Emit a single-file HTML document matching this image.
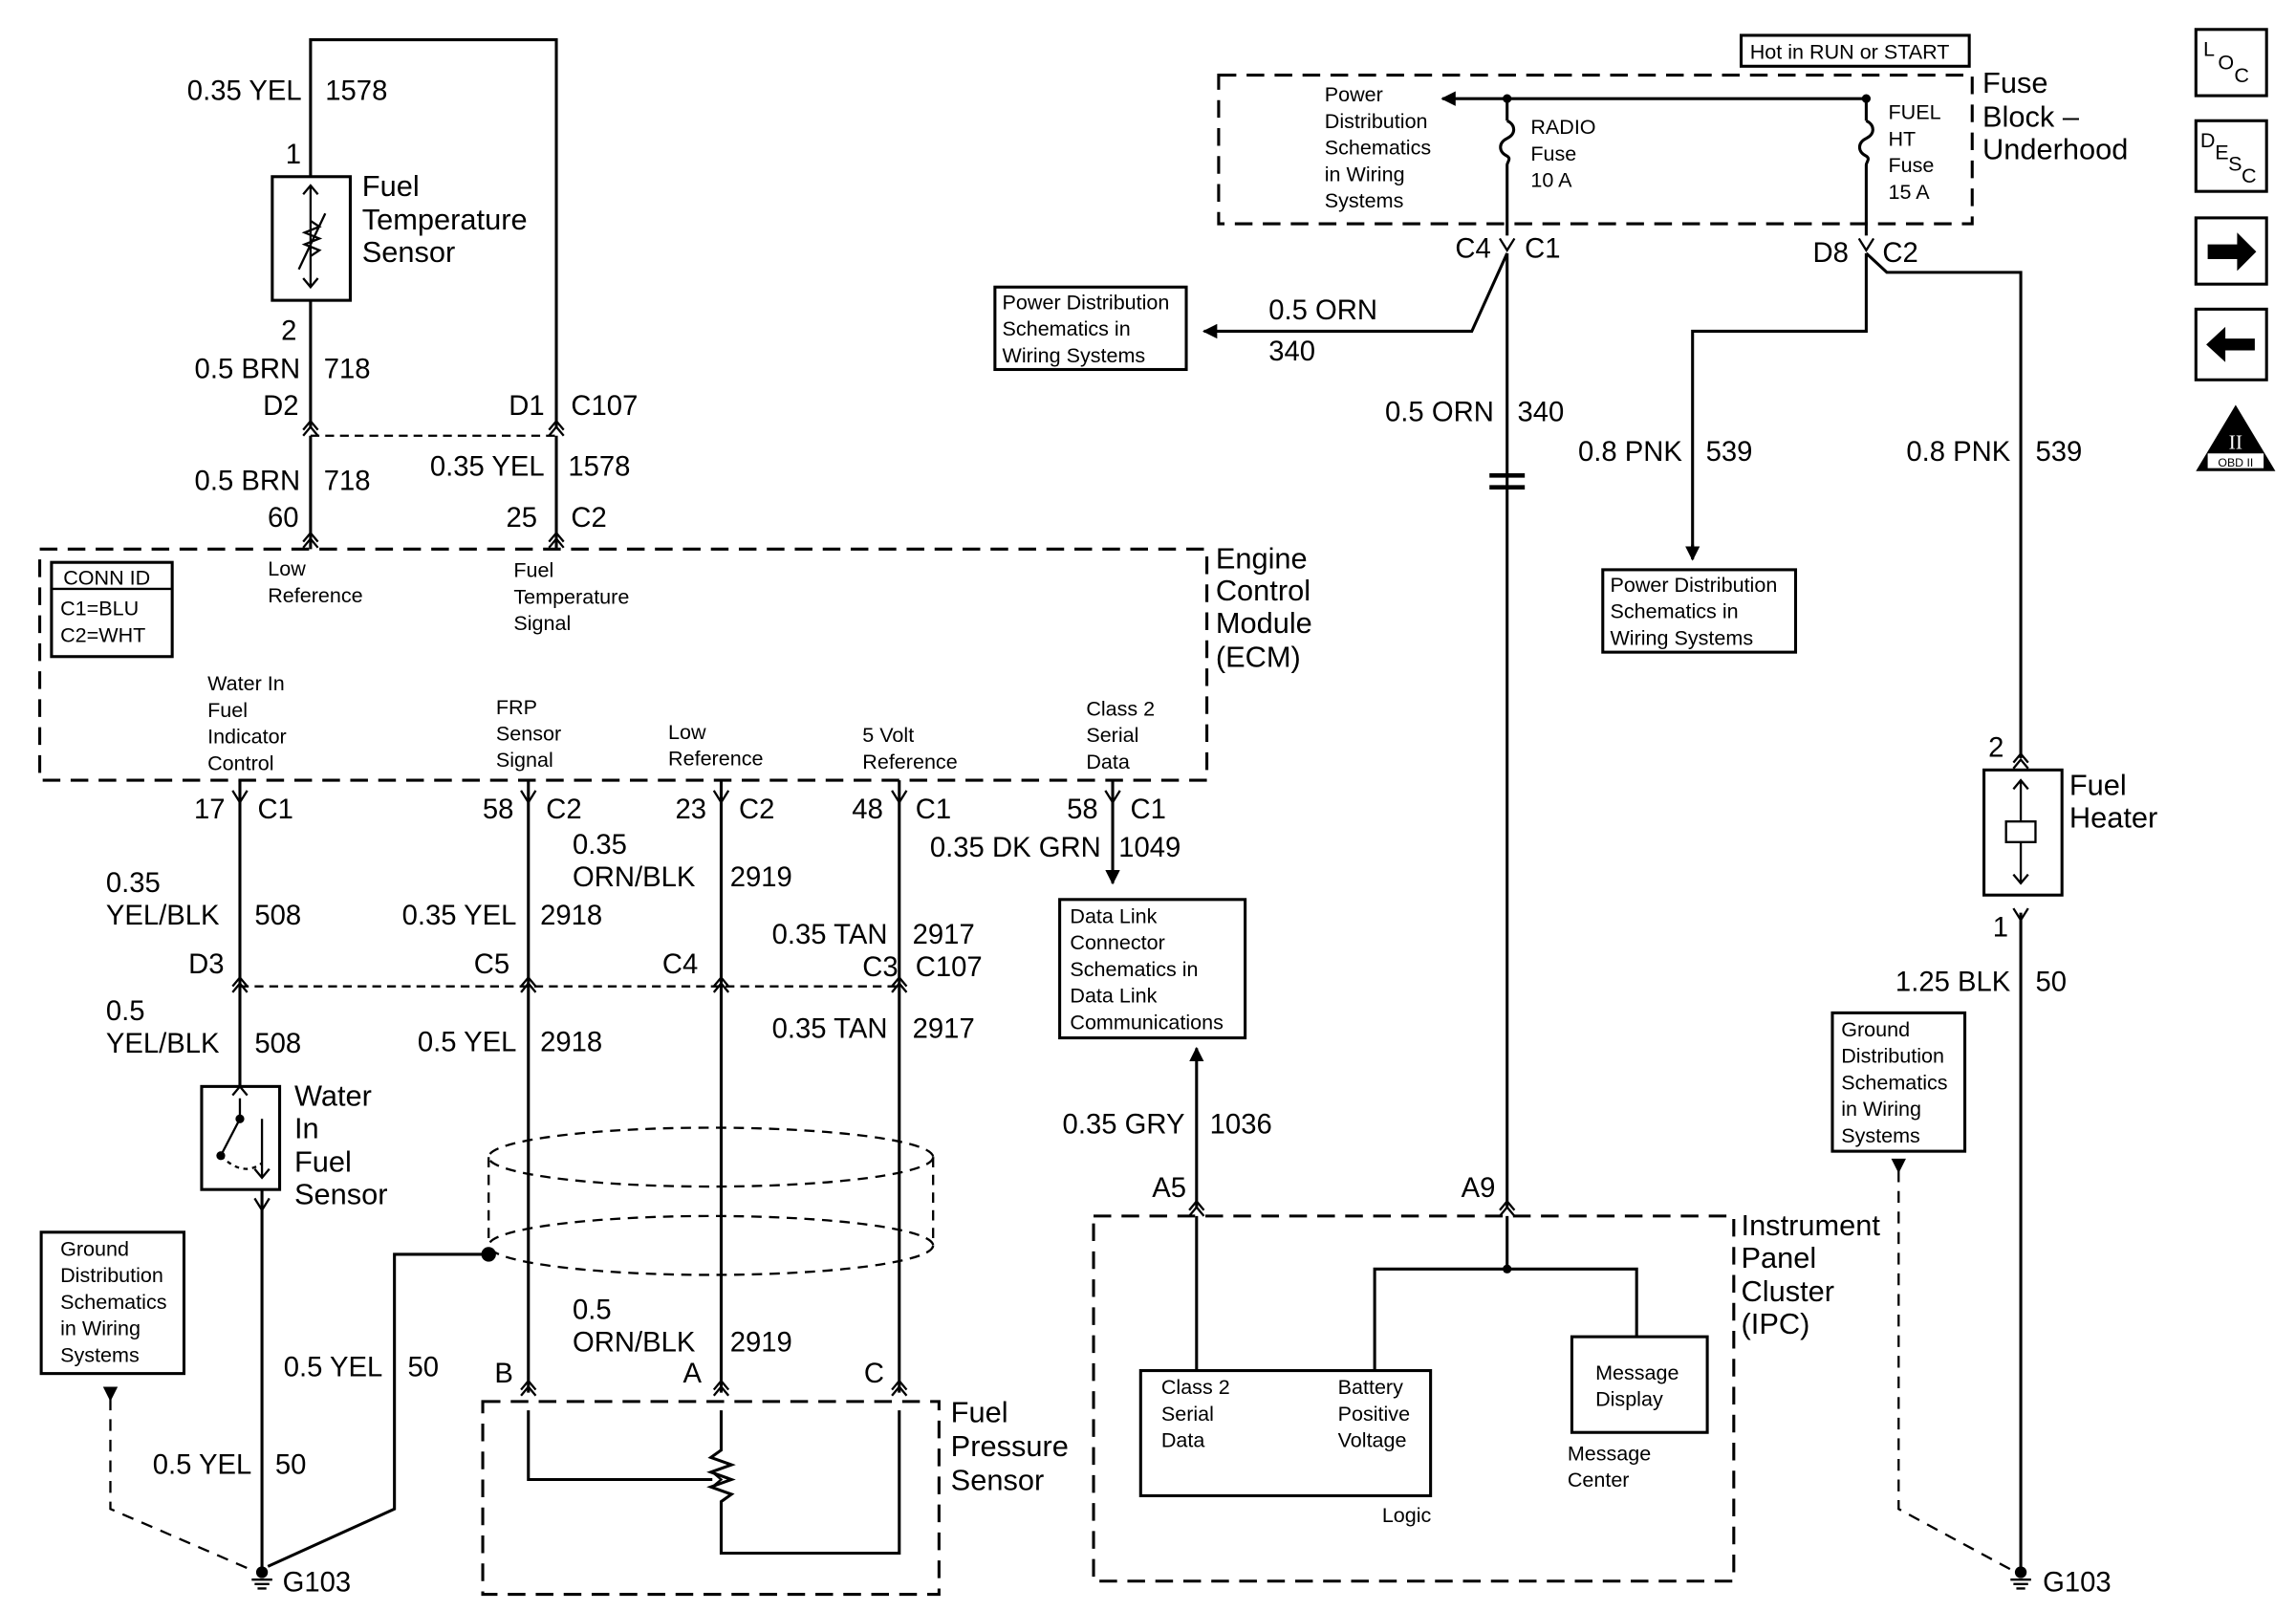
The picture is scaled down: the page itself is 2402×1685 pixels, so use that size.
<!DOCTYPE html>
<html><head><meta charset="utf-8"><style>
html,body{margin:0;padding:0;background:#fff}
svg{display:block}
text{font-family:"Liberation Sans",Arial,sans-serif;fill:#000}
.w{font-size:19px}
.s{font-size:14px}
.b{font-size:20px}
</style></head><body>
<svg width="2402" height="1685" viewBox="0 0 1560 1094.3" preserveAspectRatio="none" xmlns="http://www.w3.org/2000/svg">
<defs>
<marker id="ar" markerWidth="10" markerHeight="10" refX="9" refY="5" orient="auto" markerUnits="userSpaceOnUse"><path d="M0,0 L10,5 L0,10 z" fill="#000"/></marker>
<g id="ch"><path d="M-5,6 L0,0 L5,6 M-5,10 L0,4 L5,10" fill="none" stroke="#000" stroke-width="1.5"/></g>
<g id="yc"><path d="M-5,-8 L0,0 L5,-8" fill="none" stroke="#000" stroke-width="1.5"/></g>
<g id="gnd"><circle cx="0" cy="0" r="4" fill="#000"/><path d="M-7,5 H7 M-5,8 H5 M-3,11 H3" stroke="#000" stroke-width="1.5"/></g>
</defs>
<g fill="none" stroke="#000" stroke-width="2">
<!-- left top -->
<path d="M211,120 V27 H378 V290"/>
<rect x="185" y="120" width="53" height="84"/>
<path d="M211,204 V290"/>
<path d="M211,296 V373 M378,296 V373"/>
<path d="M211,296 H378" stroke-dasharray="6,4" stroke-width="1.5"/>
<rect x="27" y="373" width="793" height="157" stroke-dasharray="12,7"/>
<rect x="35" y="382" width="82" height="64"/>
<path d="M35,400 H117" stroke-width="1.5"/>
<!-- ECM outputs -->
<path d="M163,530 V738 M178,808 V1066"/>
<path d="M359,530 V946 M490,530 V946 M611,530 V946"/>
<path d="M756,530 V600" marker-end="url(#ar)"/>
<path d="M163,670 H611" stroke-dasharray="6,4" stroke-width="1.5"/>
<rect x="137" y="738" width="53" height="70"/>
<rect x="720" y="611" width="126" height="94"/>
<!-- shield -->
<ellipse cx="483" cy="786" rx="151" ry="20" stroke-dasharray="7,5" stroke-width="1.5"/>
<ellipse cx="483" cy="846" rx="151" ry="20" stroke-dasharray="7,5" stroke-width="1.5"/>
<path d="M332,786 V846 M634,786 V846" stroke-dasharray="7,5" stroke-width="1.5"/>
<path d="M332,852 H268 V1025 L182,1064"/>
<rect x="28" y="837" width="97" height="96"/>
<path d="M75,950 V1025 L170,1066" stroke-dasharray="8,6" stroke-width="1.5"/>
<rect x="328" y="952" width="310" height="131" stroke-dasharray="12,7"/>
<path d="M359,958 V1005 H484" />
<path d="M490,958 V985 l-7,5 l14,5 l-14,5 l14,5 l-14,5 l14,5 l-7,5 V1055 H611 V958"/>
<!-- right -->
<rect x="1183" y="24" width="155" height="21"/>
<rect x="828" y="51" width="512" height="101" stroke-dasharray="12,7"/>
<path d="M1268,67 H980" marker-end="url(#ar)"/>
<path d="M1024,67 V82 M1024,112 V160 M1268,67 V82 M1268,112 V160"/>
<path d="M1024,82 c6,3 6,9 0,12 c-6,3 -6,9 0,12 c3,2 0,4 0,6 M1268,82 c6,3 6,9 0,12 c-6,3 -6,9 0,12 c3,2 0,4 0,6"/>
<path d="M1024,172 L1000,225 H818" marker-end="url(#ar)"/>
<rect x="676" y="195" width="130" height="56"/>
<path d="M1024,172 V820"/>
<path d="M1268,172 V225 H1150 V378" />
<path d="M1150,370 V380" marker-end="url(#ar)"/>
<rect x="1089" y="387" width="131" height="56"/>
<path d="M1268,172 L1282,185 H1373 V515"/>
<rect x="1348" y="523" width="53" height="85"/>
<path d="M1373,620 V1066"/>
<rect x="1245" y="688" width="90" height="94"/>
<path d="M1290,795 V1025 L1366,1066" stroke-dasharray="8,6" stroke-width="1.5"/>
<rect x="743" y="826" width="435" height="248" stroke-dasharray="12,7"/>
<path d="M813,820 V712" marker-end="url(#ar)"/>
<path d="M813,826 V931 M1024,826 V862 M934,931 V862 H1112 V908"/>
<rect x="775" y="931" width="197" height="85"/>
<rect x="1068" y="908" width="92" height="65"/>
<!-- icons -->
<rect x="1492" y="20" width="48" height="45"/>
<rect x="1492" y="82" width="48" height="48"/>
<rect x="1492" y="148" width="48" height="45"/>
<rect x="1492" y="210" width="48" height="48"/>
</g>
<!-- inline connector -->
<path d="M1012,323 H1036 M1012,331 H1036" stroke="#000" stroke-width="3"/>
<!-- sensor internals -->
<g stroke="#000" stroke-width="1.5" fill="none">
<path d="M211,126 V195 M206,132 L211,126 L216,132 M206,189 L211,195 L216,189"/>
<path d="M203,183 L221,145 M211,150 l6,4 l-10,4 l10,4 l-10,4 l10,4 l-6,4"/>
<path d="M163,746 V760 M163,760 L150,785 M178,760 V800 M173,794 L178,800 L183,794 M158,744 L163,738 L168,744"/>
<path d="M150,785 Q165,800 178,790" stroke-dasharray="3,3"/>
<path d="M1373,530 V600 M1368,536 L1373,530 L1378,536 M1368,594 L1373,600 L1378,594"/>
<rect x="1363" y="558" width="20" height="14" fill="#fff"/>
<path d="M484,1000 L490,1005 L484,1010"/>
</g>
<circle cx="163" cy="760" r="3"/><circle cx="150" cy="785" r="3"/>
<circle cx="332" cy="852" r="5"/>
<circle cx="1024" cy="67" r="3"/><circle cx="1268" cy="67" r="3"/><circle cx="1024" cy="862" r="3"/>
<!-- connectors -->
<use href="#ch" x="211" y="286"/><use href="#ch" x="378" y="286"/>
<use href="#ch" x="211" y="362"/><use href="#ch" x="378" y="362"/>
<use href="#yc" x="163" y="545"/><use href="#yc" x="359" y="545"/><use href="#yc" x="490" y="545"/><use href="#yc" x="611" y="545"/><use href="#yc" x="756" y="545"/>
<use href="#ch" x="163" y="664"/><use href="#ch" x="359" y="664"/><use href="#ch" x="490" y="664"/><use href="#ch" x="611" y="664"/>
<use href="#yc" x="178" y="822"/>
<use href="#ch" x="359" y="938"/><use href="#ch" x="490" y="938"/><use href="#ch" x="611" y="938"/>
<use href="#yc" x="1024" y="170"/><use href="#yc" x="1268" y="170"/>
<use href="#ch" x="1373" y="512"/><use href="#yc" x="1373" y="625"/>
<use href="#ch" x="813" y="816"/><use href="#ch" x="1024" y="816"/>
<use href="#gnd" x="178" y="1068"/><use href="#gnd" x="1373" y="1068"/>
<path d="M70,942 H80 L75,952 z M1285,787 H1295 L1290,797 z"/>
<!-- text -->
<g class="w">
<text x="205" y="68" text-anchor="end">0.35 YEL</text><text x="221" y="68">1578</text>
<text x="194" y="111">1</text><text x="191" y="231">2</text>
<text x="204" y="257" text-anchor="end">0.5 BRN</text><text x="220" y="257">718</text>
<text x="203" y="282" text-anchor="end">D2</text><text x="370" y="282" text-anchor="end">D1</text><text x="388" y="282">C107</text>
<text x="204" y="333" text-anchor="end">0.5 BRN</text><text x="220" y="333">718</text>
<text x="370" y="323" text-anchor="end">0.35 YEL</text><text x="386" y="323">1578</text>
<text x="203" y="358" text-anchor="end">60</text><text x="365" y="358" text-anchor="end">25</text><text x="388" y="358">C2</text>
<text x="153" y="556" text-anchor="end">17</text><text x="175" y="556">C1</text>
<text x="349" y="556" text-anchor="end">58</text><text x="371" y="556">C2</text>
<text x="480" y="556" text-anchor="end">23</text><text x="502" y="556">C2</text>
<text x="600" y="556" text-anchor="end">48</text><text x="622" y="556">C1</text>
<text x="746" y="556" text-anchor="end">58</text><text x="768" y="556">C1</text>
<text x="72" y="606">0.35</text><text x="72" y="628">YEL/BLK</text><text x="173" y="628">508</text>
<text x="128" y="661">D3</text>
<text x="72" y="693">0.5</text><text x="72" y="715">YEL/BLK</text><text x="173" y="715">508</text>
<text x="351" y="628" text-anchor="end">0.35 YEL</text><text x="367" y="628">2918</text>
<text x="322" y="661">C5</text>
<text x="351" y="714" text-anchor="end">0.5 YEL</text><text x="367" y="714">2918</text>
<text x="389" y="580">0.35</text><text x="389" y="602">ORN/BLK</text><text x="496" y="602">2919</text>
<text x="450" y="661">C4</text>
<text x="603" y="641" text-anchor="end">0.35 TAN</text><text x="620" y="641">2917</text>
<text x="586" y="663">C3</text><text x="622" y="663">C107</text>
<text x="603" y="705" text-anchor="end">0.35 TAN</text><text x="620" y="705">2917</text>
<text x="748" y="582" text-anchor="end">0.35 DK GRN</text><text x="760" y="582">1049</text>
<text x="389" y="896">0.5</text><text x="389" y="918">ORN/BLK</text><text x="496" y="918">2919</text>
<text x="260" y="935" text-anchor="end">0.5 YEL</text><text x="277" y="935">50</text>
<text x="171" y="1001" text-anchor="end">0.5 YEL</text><text x="187" y="1001">50</text>
<text x="336" y="939">B</text><text x="464" y="939">A</text><text x="587" y="939">C</text>
<text x="192" y="1081">G103</text><text x="1388" y="1081">G103</text>
<text x="1013" y="175" text-anchor="end">C4</text><text x="1036" y="175">C1</text>
<text x="1256" y="178" text-anchor="end">D8</text><text x="1279" y="178">C2</text>
<text x="862" y="217">0.5 ORN</text><text x="862" y="245">340</text>
<text x="1015" y="286" text-anchor="end">0.5 ORN</text><text x="1031" y="286">340</text>
<text x="1143" y="313" text-anchor="end">0.8 PNK</text><text x="1159" y="313">539</text>
<text x="1366" y="313" text-anchor="end">0.8 PNK</text><text x="1383" y="313">539</text>
<text x="1351" y="514">2</text><text x="1354" y="636">1</text>
<text x="1366" y="673" text-anchor="end">1.25 BLK</text><text x="1383" y="673">50</text>
<text x="805" y="770" text-anchor="end">0.35 GRY</text><text x="822" y="770">1036</text>
<text x="806" y="813" text-anchor="end">A5</text><text x="1016" y="813" text-anchor="end">A9</text>
</g>
<g class="b">
<text x="246" y="133">Fuel</text><text x="246" y="156">Temperature</text><text x="246" y="178">Sensor</text>
<text x="826" y="386">Engine</text><text x="826" y="408">Control</text><text x="826" y="430">Module</text><text x="826" y="453">(ECM)</text>
<text x="200" y="751">Water</text><text x="200" y="773">In</text><text x="200" y="796">Fuel</text><text x="200" y="818">Sensor</text>
<text x="646" y="966">Fuel</text><text x="646" y="989">Pressure</text><text x="646" y="1012">Sensor</text>
<text x="1347" y="63">Fuse</text><text x="1347" y="86">Block –</text><text x="1347" y="108">Underhood</text>
<text x="1406" y="540">Fuel</text><text x="1406" y="562">Heater</text>
<text x="1183" y="839">Instrument</text><text x="1183" y="861">Panel</text><text x="1183" y="884">Cluster</text><text x="1183" y="906">(IPC)</text>
</g>
<g class="s">
<text x="43" y="397">CONN ID</text><text x="41" y="418">C1=BLU</text><text x="41" y="436">C2=WHT</text>
<text x="182" y="391">Low</text><text x="182" y="409">Reference</text>
<text x="349" y="392">Fuel</text><text x="349" y="410">Temperature</text><text x="349" y="428">Signal</text>
<text x="141" y="469">Water In</text><text x="141" y="487">Fuel</text><text x="141" y="505">Indicator</text><text x="141" y="523">Control</text>
<text x="337" y="485">FRP</text><text x="337" y="503">Sensor</text><text x="337" y="521">Signal</text>
<text x="454" y="502">Low</text><text x="454" y="520">Reference</text>
<text x="586" y="504">5 Volt</text><text x="586" y="522">Reference</text>
<text x="738" y="486">Class 2</text><text x="738" y="504">Serial</text><text x="738" y="522">Data</text>
<text x="727" y="627">Data Link</text><text x="727" y="645">Connector</text><text x="727" y="663">Schematics in</text><text x="727" y="681">Data Link</text><text x="727" y="699">Communications</text>
<text x="41" y="853">Ground</text><text x="41" y="871">Distribution</text><text x="41" y="889">Schematics</text><text x="41" y="907">in Wiring</text><text x="41" y="925">Systems</text>
<text x="1189" y="40">Hot in RUN or START</text>
<text x="900" y="69">Power</text><text x="900" y="87">Distribution</text><text x="900" y="105">Schematics</text><text x="900" y="123">in Wiring</text><text x="900" y="141">Systems</text>
<text x="1040" y="91">RADIO</text><text x="1040" y="109">Fuse</text><text x="1040" y="127">10 A</text>
<text x="1283" y="81">FUEL</text><text x="1283" y="99">HT</text><text x="1283" y="117">Fuse</text><text x="1283" y="135">15 A</text>
<text x="681" y="210">Power Distribution</text><text x="681" y="228">Schematics in</text><text x="681" y="246">Wiring Systems</text>
<text x="1094" y="402">Power Distribution</text><text x="1094" y="420">Schematics in</text><text x="1094" y="438">Wiring Systems</text>
<text x="1251" y="704">Ground</text><text x="1251" y="722">Distribution</text><text x="1251" y="740">Schematics</text><text x="1251" y="758">in Wiring</text><text x="1251" y="776">Systems</text>
<text x="789" y="947">Class 2</text><text x="789" y="965">Serial</text><text x="789" y="983">Data</text>
<text x="909" y="947">Battery</text><text x="909" y="965">Positive</text><text x="909" y="983">Voltage</text>
<text x="939" y="1034">Logic</text>
<text x="1084" y="937">Message</text><text x="1084" y="955">Display</text>
<text x="1065" y="992">Message</text><text x="1065" y="1010">Center</text>
<text x="1497" y="38">L</text><text x="1507" y="47">O</text><text x="1518" y="56">C</text>
<text x="1495" y="100">D</text><text x="1505" y="108">E</text><text x="1514" y="116">S</text><text x="1523" y="124">C</text>
</g>
<path d="M1500,166 H1520 V158 L1533,171 L1520,184 V176 H1500 z"/>
<path d="M1532,230 H1512 V222 L1499,234 L1512,246 V238 H1532 z"/>
<path d="M1519,275 L1546,320 H1492 z"/>
<rect x="1500" y="308" width="38" height="10" fill="#fff"/>
<text x="1519" y="305" text-anchor="middle" style="font-size:14px;font-family:'Liberation Serif',serif;fill:#fff">II</text>
<text x="1519" y="317" text-anchor="middle" style="font-size:8px">OBD II</text>
</svg>
</body></html>
